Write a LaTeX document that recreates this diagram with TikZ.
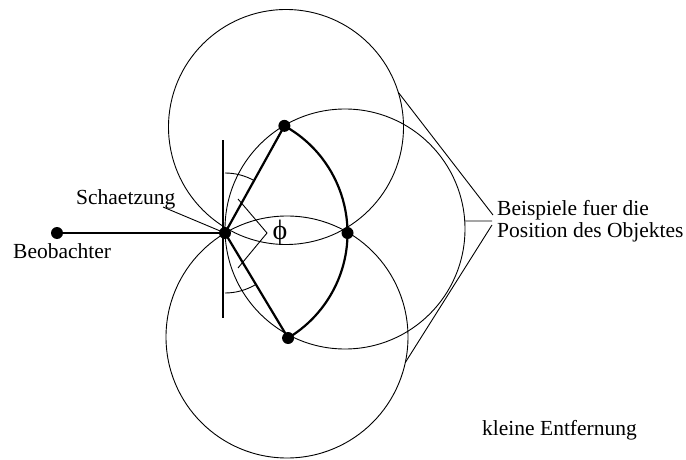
\documentclass[tikz,border=0pt]{standalone}
\usepackage{fontspec}
\setmainfont{Liberation Serif}
\usetikzlibrary{calc}
\begin{document}
\begin{tikzpicture}[x=1pt,y=1pt,
  thinline/.style={line width=0.9pt},
  thickline/.style={line width=2.2pt},
  dot/.style={circle,fill=black,inner sep=0pt,minimum size=12pt},
  lbl/.style={font=\fontsize{21.5}{22.5}\selectfont,inner sep=0pt}]
\useasboundingbox (0,0) rectangle (686,459);
% circle centres
\coordinate (c1) at (286,332);
\coordinate (c2) at (345,230);
\coordinate (c3) at (287,122);
% dots
\node[dot] (B) at (57,226) {};
\node[dot] (O) at (225,226) {};
\node[dot] (U) at ($(O)+(61:122.5)$) {};
\node[dot] (R) at ($(O)+(0:122.5)$) {};
\node[dot] (L) at ($(O)+(-59:122.5)$) {};
% circles
\draw[thinline] (c1) circle[radius=117.5];
\draw[thinline] (c2) circle[radius=120];
\draw[thinline] (c3) circle[radius=121];
% observer line and estimate bar
\draw[thickline] (B) -- (O.center);
\coordinate (vt) at (223,319);
\coordinate (vb) at (223,141);
\draw[thickline] (vt) -- (vb);
% thick lines and arc
\draw[thickline] (O.center) -- (U.center);
\draw[thickline] (O.center) -- (L.center);
\draw[thickline] (U.center) arc[start angle=61,end angle=-59,radius=122.5];
% angle arcs
\draw[thinline] ($(O)+(90:60)$) arc[start angle=90,end angle=61,radius=60];
\draw[thinline] ($(O)+(-90:60)$) arc[start angle=-90,end angle=-59,radius=60];
% phi marker
\coordinate (m1) at (238,260);
\coordinate (m2) at (267,226);
\coordinate (m3) at (238,191);
\draw[thinline] (m1) -- (m2) -- (m3);
\node[inner sep=0pt,font=\fontsize{28}{30}\selectfont,anchor=base] (phi) at (280,220) {ϕ};
% labels
\node[lbl,anchor=base west] (beob) at (13,201) {Beobachter};
\node[lbl,anchor=base west] (schae) at (76,255) {Schaetzung};
\coordinate (sch) at (163,252);
\draw[thinline] (sch) -- (O.center);
\node[lbl,anchor=base west] (bsp1) at (497,244) {Beispiele fuer die};
\node[lbl,anchor=base west] (bsp2) at (497,222) {Position des Objektes};
\node[lbl,anchor=base west] (klein) at (482,24) {kleine Entfernung};
% bracket
\coordinate (t1) at (493,244);
\coordinate (t2) at (492,238);
\coordinate (t3) at (492,234);
\draw[thinline] ($(c1)+(17.2:117.5)$) -- (t1);
\draw[thinline] ($(c2)+(3.8:120)$) -- (t2);
\draw[thinline] ($(c3)+(-12.2:121)$) -- (t3);
\end{tikzpicture}
\end{document}
